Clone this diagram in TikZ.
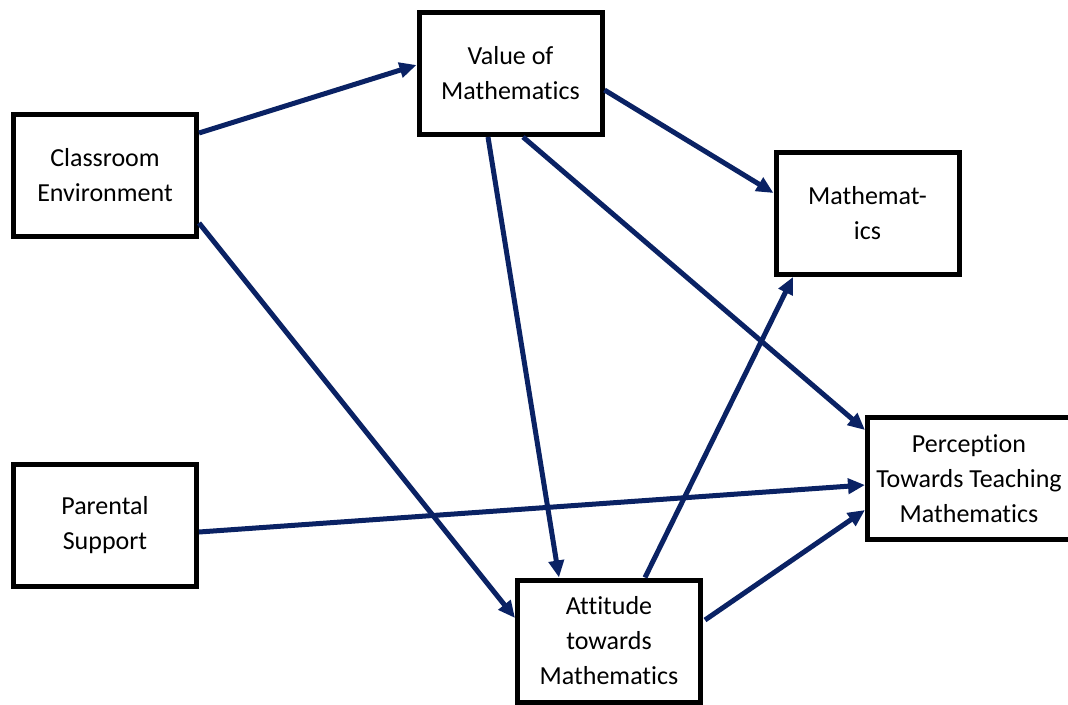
\documentclass[tikz,border=0pt]{standalone}
\usepackage{fontspec}
\setmainfont{Carlito}[RawFeature={-liga}]
\usetikzlibrary{arrows.meta}
\definecolor{navy}{RGB}{10,34,100}
\begin{document}
\begin{tikzpicture}[x=1pt,y=-1pt,
 box/.style={draw=black,line width=5pt,minimum width=183pt,minimum height=122pt,align=center,font=\fontsize{26}{35}\selectfont,inner sep=0pt},
 link/.style={draw=navy,line width=5pt,-{Triangle[length=17pt,width=15pt]}}]
\useasboundingbox (0,0) rectangle (1068,704);
\node[box] (cls) at (105,175) {Classroom\\Environment};
\node[box] (par) at (105,525.5) {Parental\\Support};
\node[box] (val) at (510.5,73.5) {Value of\\Mathematics};
\node[box] (mat) at (867.5,213.5) {Mathemat-\\ics};
\node[box,minimum width=203pt] (per) at (969,478.5) {Perception\\Towards Teaching\\Mathematics};
\node[box] (att) at (609,641) {Attitude\\towards\\Mathematics};
\draw[link] ([yshift=42pt]cls.east) -- ([yshift=8.5pt]val.west);
\draw[link] ([yshift=-48pt]cls.east) -- ([yshift=23pt]att.west);
\draw[link] ([xshift=-22.5pt]val.south) -- ([xshift=-50pt]att.north);
\draw[link] ([xshift=12.5pt]val.south) -- ([yshift=48.5pt]per.west);
\draw[link] ([yshift=-16.5pt]val.east) -- ([yshift=20.5pt]mat.west);
\draw[link] ([xshift=36pt]att.north) -- ([xshift=-74.5pt]mat.south);
\draw[link] ([xshift=2pt,yshift=21pt]att.east) -- ([yshift=-31.5pt]per.west);
\draw[link] ([yshift=-6.5pt]par.east) -- ([yshift=-6.5pt]per.west);
\end{tikzpicture}
\end{document}
